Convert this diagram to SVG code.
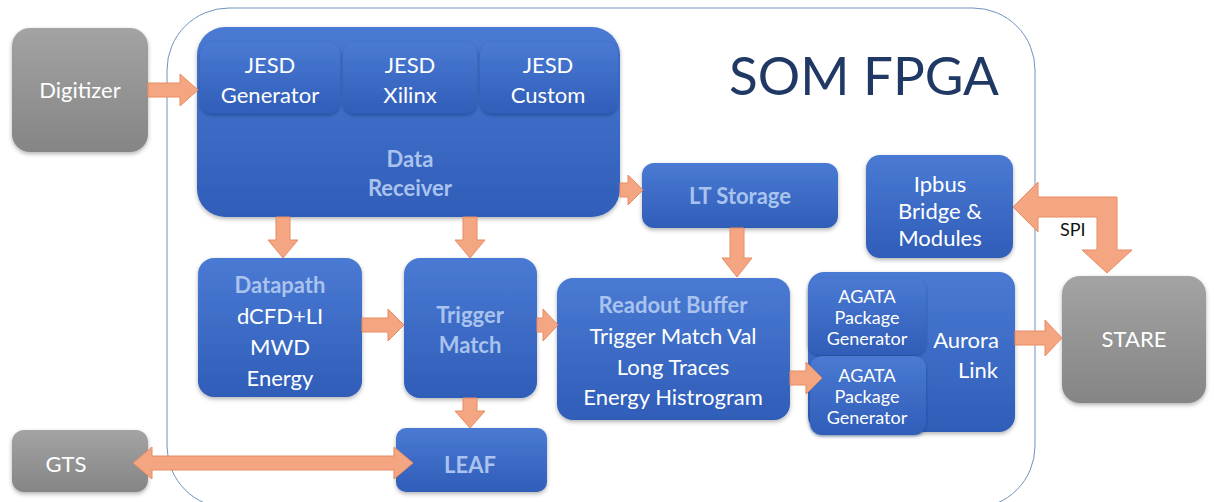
<svg xmlns="http://www.w3.org/2000/svg" width="1214" height="502" viewBox="0 0 1214 502">
  <style>
    .blue { fill: url(#gBlue); filter: url(#shadow); }
    .sub { fill: url(#gBlue); filter: url(#shadowSub); }
    .gray { fill: url(#gGray); filter: url(#shadow); }
    .arrow { fill: #f4a582; stroke: #e88c62; stroke-width: 1; }
    .t { font-family: Lato, "Open Sans", "Liberation Sans", sans-serif; text-anchor: middle; fill: #ffffff; font-size: 22px; }
    .h { font-weight: bold; fill: #a9c3ee; }
    .s { font-size: 18px; }
  </style>
  <defs>
    <linearGradient id="gBlue" x1="0" y1="0" x2="0" y2="1">
      <stop offset="0" stop-color="#4a7ad3"/>
      <stop offset="1" stop-color="#2f5db8"/>
    </linearGradient>
    <linearGradient id="gGray" x1="0" y1="0" x2="0" y2="1">
      <stop offset="0" stop-color="#a3a3a3"/>
      <stop offset="1" stop-color="#858585"/>
    </linearGradient>
    <filter id="shadow" x="-10%" y="-10%" width="120%" height="125%">
      <feDropShadow dx="0" dy="2" stdDeviation="2" flood-color="#000" flood-opacity="0.3"/>
    </filter>
    <filter id="shadowSub" x="-10%" y="-10%" width="120%" height="125%">
      <feDropShadow dx="0" dy="1.5" stdDeviation="1.5" flood-color="#102a60" flood-opacity="0.45"/>
    </filter>
  </defs>

  <rect width="1214" height="502" fill="#ffffff"/>

  <!-- FPGA boundary -->
  <g id="som-fpga">
    <rect x="167" y="8" width="868" height="500" rx="62" fill="none" stroke="#6f93bd" stroke-width="1"/>
    <text x="864" y="95" font-family="Lato, 'Open Sans', 'Liberation Sans', sans-serif" font-size="53" fill="#1f3864" text-anchor="middle">SOM FPGA</text>
  </g>

  <!-- external blocks -->
  <g id="digitizer">
    <rect class="gray" x="12" y="28" width="136" height="124" rx="18"/>
    <text class="t" x="80" y="98">Digitizer</text>
  </g>
  <g id="gts">
    <rect class="gray" x="12" y="430" width="136" height="62" rx="12"/>
    <text class="t" x="66" y="472">GTS</text>
  </g>
  <g id="stare">
    <rect class="gray" x="1062" y="276" width="144" height="127" rx="18"/>
    <text class="t" x="1134" y="347">STARE</text>
  </g>

  <!-- Data receiver with JESD cores -->
  <g id="data-receiver">
    <rect class="blue" x="197" y="27" width="423" height="190" rx="28"/>
    <text class="t h" x="410" y="167">Data</text>
    <text class="t h" x="410" y="196">Receiver</text>
  </g>
  <g id="jesd-generator">
    <rect class="sub" x="200" y="42" width="140" height="72" rx="12"/>
    <text class="t" x="270" y="73">JESD</text>
    <text class="t" x="270" y="103">Generator</text>
  </g>
  <g id="jesd-xilinx">
    <rect class="sub" x="343" y="42" width="134" height="72" rx="12"/>
    <text class="t" x="410" y="73">JESD</text>
    <text class="t" x="410" y="103">Xilinx</text>
  </g>
  <g id="jesd-custom">
    <rect class="sub" x="480" y="42" width="138" height="72" rx="12"/>
    <text class="t" x="548" y="73">JESD</text>
    <text class="t" x="548" y="103">Custom</text>
  </g>

  <g id="lt-storage">
    <rect class="blue" x="642" y="163" width="196" height="65" rx="12"/>
    <text class="t h" x="740" y="204">LT Storage</text>
  </g>

  <g id="ipbus">
    <rect class="blue" x="866" y="155" width="147" height="103" rx="14"/>
    <text class="t" x="940" y="192">Ipbus</text>
    <text class="t" x="940" y="219">Bridge &amp;</text>
    <text class="t" x="940" y="246">Modules</text>
  </g>

  <g id="datapath">
    <rect class="blue" x="198" y="258" width="164" height="139" rx="16"/>
    <text class="t h" x="280" y="293">Datapath</text>
    <text class="t" x="280" y="324">dCFD+LI</text>
    <text class="t" x="280" y="355">MWD</text>
    <text class="t" x="280" y="386">Energy</text>
  </g>

  <g id="trigger-match">
    <rect class="blue" x="404" y="258" width="133" height="140" rx="16"/>
    <text class="t h" x="470" y="323">Trigger</text>
    <text class="t h" x="470" y="353">Match</text>
  </g>

  <g id="leaf">
    <rect class="blue" x="396" y="428" width="151" height="64" rx="10"/>
    <text class="t h" x="470" y="473">LEAF</text>
  </g>

  <g id="readout-buffer">
    <rect class="blue" x="557" y="278" width="233" height="142" rx="16"/>
    <text class="t h" x="673" y="313">Readout Buffer</text>
    <text class="t" x="673" y="344">Trigger Match Val</text>
    <text class="t" x="673" y="375">Long Traces</text>
    <text class="t" x="673" y="405">Energy Histrogram</text>
  </g>

  <g id="aurora-link">
    <rect class="blue" x="808" y="272" width="207" height="160" rx="16"/>
    <text class="t" x="966" y="348">Aurora</text>
    <text class="t" x="978" y="378">Link</text>
  </g>
  <g id="agata-1">
    <rect class="sub" x="808" y="278" width="118" height="77" rx="12"/>
    <text class="t s" x="867" y="303">AGATA</text>
    <text class="t s" x="867" y="324">Package</text>
    <text class="t s" x="867" y="345">Generator</text>
  </g>
  <g id="agata-2">
    <rect class="sub" x="810" y="356" width="116" height="79" rx="12"/>
    <text class="t s" x="867" y="382">AGATA</text>
    <text class="t s" x="867" y="403">Package</text>
    <text class="t s" x="867" y="424">Generator</text>
  </g>

  <!-- connectors, drawn over the block edges -->
  <g id="connectors">
    <!-- Digitizer -> Data Receiver -->
    <path class="arrow" d="M148,83 H180 V74 L198,90 L180,106 V97 H148 Z"/>
    <!-- Data Receiver -> Datapath -->
    <path class="arrow" d="M276,217 V240 H268 L283,258 L298,240 H290 V217 Z"/>
    <!-- Data Receiver -> Trigger Match -->
    <path class="arrow" d="M463,217 V240 H455 L470,258 L485,240 H477 V217 Z"/>
    <!-- Data Receiver -> LT Storage -->
    <path class="arrow" d="M620,183 H628 V175 L643,190 L628,205 V197 H620 Z"/>
    <!-- LT Storage -> Readout Buffer -->
    <path class="arrow" d="M730,228 V258 H722 L737,277 L752,258 H744 V228 Z"/>
    <!-- Datapath -> Trigger Match -->
    <path class="arrow" d="M362,318 H388 V309 L404,325 L388,341 V332 H362 Z"/>
    <!-- Trigger Match -> Readout Buffer -->
    <path class="arrow" d="M537,318 H543 V309 L558,325 L543,341 V332 H537 Z"/>
    <!-- Trigger Match -> LEAF -->
    <path class="arrow" d="M463,398 V411 H455 L470,428 L485,411 H477 V398 Z"/>
    <!-- GTS <-> LEAF -->
    <path class="arrow" d="M133,463 L152,447 V456 H394 V447 L413,463 L394,479 V470 H152 V479 Z"/>
    <!-- Readout Buffer -> AGATA Package Generator -->
    <path class="arrow" d="M790,371 H806 V362 L822,378 L806,394 V385 H790 Z"/>
    <!-- Aurora Link -> STARE -->
    <path class="arrow" d="M1015,331 H1045 V320 L1062,338 L1045,356 V345 H1015 Z"/>
    <!-- Ipbus <-> STARE (SPI) -->
    <path class="arrow" d="M1013,207 L1038,182 V197 H1117 V250 H1132 L1107,273 L1082,250 H1097 V217 H1038 V232 Z"/>
    <text x="1060" y="236" font-family="Lato, 'Open Sans', 'Liberation Sans', sans-serif" font-size="18" fill="#111111">SPI</text>
  </g>
</svg>
